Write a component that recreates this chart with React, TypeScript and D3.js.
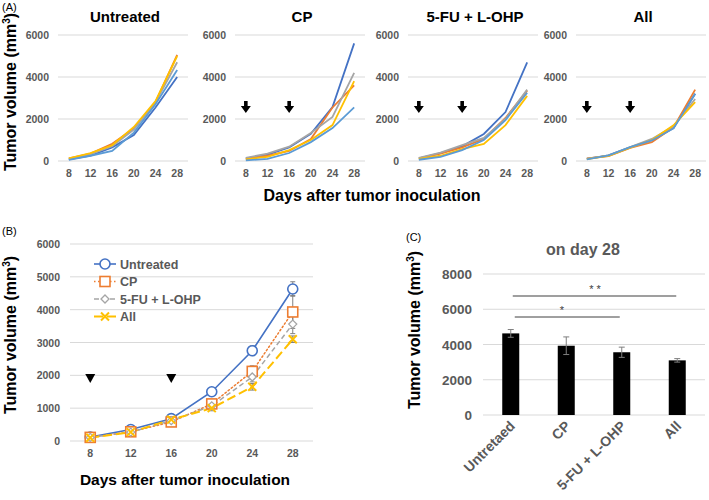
import React from 'react';
import * as d3 from 'd3';

const days = [8, 12, 16, 20, 24, 28];
const treatmentDays = [8, 16];
const groupTitles = ['Untreated', 'CP', '5-FU + L-OHP', 'All'];

// Panel A: individual mice (dark blue, orange, gray, yellow, light blue)
const untreatedMice = [
  [80, 250, 650, 1240, 2550, 4000],
  [120, 350, 820, 1550, 2800, 5050],
  [100, 330, 700, 1500, 2800, 4700],
  [130, 380, 750, 1620, 2850, 5000],
  [50, 250, 480, 1350, 2700, 4330],
];
const cpMice = [
  [130, 300, 650, 1290, 2570, 5600],
  [100, 250, 480, 1050, 2550, 3600],
  [150, 350, 680, 1330, 2100, 4200],
  [80, 200, 520, 1000, 1710, 3800],
  [30, 100, 380, 900, 1570, 2550],
];
const fuMice = [
  [130, 380, 700, 1290, 2330, 4700],
  [120, 350, 650, 1050, 2050, 3350],
  [150, 400, 760, 1100, 2000, 3400],
  [100, 250, 560, 810, 1710, 3100],
  [60, 200, 520, 1000, 1950, 3250],
];
const allMice = [
  [100, 270, 650, 1000, 1570, 3200],
  [120, 230, 620, 900, 1600, 3400],
  [110, 260, 660, 1050, 1650, 2950],
  [90, 250, 640, 1000, 1700, 2800],
  [80, 270, 660, 980, 1550, 3200],
];
const panelAYTicks = [0, 2000, 4000, 6000];

// Panel B: group means
const legendLabels = ['Untreated', 'CP', '5-FU + L-OHP', 'All'];
const untreatedMean = [120, 350, 680, 1500, 2750, 4630];
const cpMean = [110, 280, 580, 1130, 2120, 3930];
const fuMean = [110, 270, 620, 1070, 1950, 3560];
const allMean = [100, 270, 650, 1000, 1650, 3100];
const untreatedErr = [20, 40, 60, 120, 150, 220];
const cpErr = [20, 40, 60, 100, 170, 500];
const fuErr = [20, 40, 60, 100, 150, 290];
const allErr = [20, 30, 50, 80, 100, 100];
const panelBYTicks = [0, 1000, 2000, 3000, 4000, 5000, 6000];

// Panel C
const barLabels = ['Untretaed', 'CP', '5-FU + L-OHP', 'All'];
const day28Means = [4630, 3930, 3560, 3100];
const day28Errors = [220, 500, 290, 100];
const panelCYTicks = [0, 2000, 4000, 6000, 8000];

const FONT = "'Liberation Sans', Arial, Helvetica, sans-serif";
const GRAY = '#595959';
const GRID = '#d9d9d9';
const mouseColors = ['#4472C4', '#ED7D31', '#A5A5A5', '#FFC000', '#5B9BD5'];

function YTitle({ x, y }: { x: number; y: number }) {
  return (
    <text transform={`translate(${x},${y}) rotate(-90)`} textAnchor="middle" fontFamily={FONT}
      fontWeight="bold" fontSize={16} fill="#000">
      Tumor volume (mm<tspan dy={-6} fontSize={10}>3</tspan><tspan dy={6}>)</tspan>
    </text>
  );
}

function PanelA() {
  const groups = [untreatedMice, cpMice, fuMice, allMice];
  const gx0 = [58, 235, 408, 576];
  const w = 130;
  const y = d3.scaleLinear().domain([0, 6000]).range([161, 35]);
  return (
    <g>
      <text x={2} y={11} fontFamily={FONT} fontSize={11} fill="#000">(A)</text>
      <YTitle x={16} y={92} />
      {groups.map((mice, gi) => {
        const x = d3.scalePoint<number>().domain(days).range([gx0[gi], gx0[gi] + w]).padding(0.5);
        const line = d3.line<number>().x((_, i) => x(days[i])!).y((v) => y(v));
        return (
          <g key={gi}>
            <text x={gx0[gi] + w / 2 + 2} y={22} textAnchor="middle" fontFamily={FONT} fontWeight="bold"
              fontSize={15} fill="#000">{groupTitles[gi]}</text>
            {panelAYTicks.map((t) => (
              <g key={t}>
                <line x1={gx0[gi]} x2={gx0[gi] + w} y1={y(t)} y2={y(t)} stroke={GRID} strokeWidth={1} />
                <text x={gx0[gi] - 9} y={y(t) + 4} textAnchor="end" fontFamily={FONT} fontWeight="bold"
                  fontSize={10.5} fill={GRAY}>{t}</text>
              </g>
            ))}
            {days.map((d) => (
              <text key={d} x={x(d)} y={177} textAnchor="middle" fontFamily={FONT} fontWeight="bold"
                fontSize={10.5} fill={GRAY}>{d}</text>
            ))}
            {mice.map((m, mi) => (
              <path key={mi} d={line(m)!} fill="none" stroke={mouseColors[mi]} strokeWidth={1.8} />
            ))}
            {gi > 0 && treatmentDays.map((d) => {
              const cx = x(d)!;
              const t = 101;
              return (
                <path key={d} fill="#000"
                  d={`M${cx - 1.8},${t} L${cx + 1.8},${t} L${cx + 1.8},${t + 5} L${cx + 5},${t + 5} L${cx},${t + 12} L${cx - 5},${t + 5} L${cx - 1.8},${t + 5} Z`} />
              );
            })}
          </g>
        );
      })}
      <text x={372} y={201} textAnchor="middle" fontFamily={FONT} fontWeight="bold" fontSize={16}
        fill="#000">Days after tumor inoculation</text>
    </g>
  );
}

function Marker({ kind, cx, cy }: { kind: number; cx: number; cy: number }) {
  if (kind === 0) return <circle cx={cx} cy={cy} r={5} fill="#fff" stroke="#4472C4" strokeWidth={1.6} />;
  if (kind === 1)
    return <rect x={cx - 5} y={cy - 5} width={10} height={10} fill="#fff" stroke="#ED7D31" strokeWidth={1.6} />;
  if (kind === 2)
    return <path d={`M${cx},${cy - 4} L${cx + 4},${cy} L${cx},${cy + 4} L${cx - 4},${cy} Z`} fill="#fff"
      stroke="#A5A5A5" strokeWidth={1.3} />;
  return <path d={`M${cx - 4},${cy - 4} L${cx + 4},${cy + 4} M${cx + 4},${cy - 4} L${cx - 4},${cy + 4}`}
    stroke="#FFC000" strokeWidth={2} fill="none" />;
}

function PanelB() {
  const x = d3.scalePoint<number>().domain(days).range([70, 313]).padding(0.5);
  const y = d3.scaleLinear().domain([0, 6000]).range([441, 244]);
  const series = [untreatedMean, cpMean, fuMean, allMean];
  const errs = [untreatedErr, cpErr, fuErr, allErr];
  const colors = ['#4472C4', '#ED7D31', '#A5A5A5', '#FFC000'];
  const dashes = ['none', '1.5 2.5', '5 3', '9 4'];
  const widths = [1.6, 1.5, 1.5, 2];
  const line = d3.line<number>().x((_, i) => x(days[i])!).y((v) => y(v));
  return (
    <g>
      <text x={2} y={235} fontFamily={FONT} fontSize={11} fill="#000">(B)</text>
      <YTitle x={16} y={335} />
      {panelBYTicks.map((t) => (
        <g key={t}>
          <line x1={70} x2={313} y1={y(t)} y2={y(t)} stroke={GRID} strokeWidth={1} />
          <text x={60} y={y(t) + 4} textAnchor="end" fontFamily={FONT} fontWeight="bold" fontSize={10.5}
            fill={GRAY}>{t}</text>
        </g>
      ))}
      {days.map((d) => (
        <text key={d} x={x(d)} y={457} textAnchor="middle" fontFamily={FONT} fontWeight="bold" fontSize={10.5}
          fill={GRAY}>{d}</text>
      ))}
      {series.map((s, si) =>
        s.map((v, i) => {
          const cx = x(days[i])!;
          return (
            <g key={`${si}-${i}`} stroke="#808080" strokeWidth={1}>
              <line x1={cx} x2={cx} y1={y(v - errs[si][i])} y2={y(v + errs[si][i])} />
              <line x1={cx - 2.5} x2={cx + 2.5} y1={y(v + errs[si][i])} y2={y(v + errs[si][i])} />
              <line x1={cx - 2.5} x2={cx + 2.5} y1={y(v - errs[si][i])} y2={y(v - errs[si][i])} />
            </g>
          );
        })
      )}
      {series.map((s, si) => (
        <path key={si} d={line(s)!} fill="none" stroke={colors[si]} strokeWidth={widths[si]}
          strokeDasharray={dashes[si]} strokeLinecap={si === 1 ? 'round' : 'butt'} />
      ))}
      {series.map((s, si) =>
        s.map((v, i) => <Marker key={`${si}-${i}`} kind={si} cx={x(days[i])!} cy={y(v)} />)
      )}
      {treatmentDays.map((d) => (
        <path key={d} d={`M${x(d)! - 5},${374} L${x(d)! + 5},${374} L${x(d)!},${383} Z`} fill="#000" />
      ))}
      {legendLabels.map((l, i) => {
        const ly = 264 + i * 17.5;
        return (
          <g key={l}>
            <line x1={94} x2={116} y1={ly} y2={ly} stroke={colors[i]} strokeWidth={widths[i]}
              strokeDasharray={dashes[i]} />
            <Marker kind={i} cx={105} cy={ly} />
            <text x={120} y={ly + 4.5} fontFamily={FONT} fontWeight="bold" fontSize={12.5} fill={GRAY}>{l}</text>
          </g>
        );
      })}
      <text x={185} y={485} textAnchor="middle" fontFamily={FONT} fontWeight="bold" fontSize={15.5}
        fill="#000">Days after tumor inoculation</text>
    </g>
  );
}

function PanelC() {
  const x = d3.scaleBand<string>().domain(barLabels).range([483, 705]);
  const y = d3.scaleLinear().domain([0, 8000]).range([415, 274]);
  const bw = 17;
  const cxs = barLabels.map((l) => x(l)! + x.bandwidth() / 2);
  return (
    <g>
      <text x={406} y={241} fontFamily={FONT} fontSize={11} fill="#000">(C)</text>
      <text x={583} y={255} textAnchor="middle" fontFamily={FONT} fontWeight="bold" fontSize={16}
        fill={GRAY}>on day 28</text>
      <YTitle x={420} y={330} />
      {panelCYTicks.map((t) => (
        <g key={t}>
          <line x1={483} x2={705} y1={y(t)} y2={y(t)} stroke={GRID} strokeWidth={1} />
          <text x={472} y={y(t) + 5} textAnchor="end" fontFamily={FONT} fontWeight="bold" fontSize={13.5}
            fill={GRAY}>{t}</text>
        </g>
      ))}
      {day28Means.map((v, i) => (
        <rect key={i} x={cxs[i] - bw / 2} y={y(v)} width={bw} height={y(0) - y(v)} fill="#000" />
      ))}
      {day28Means.map((v, i) => (
        <g key={i} stroke="#7f7f7f" strokeWidth={1}>
          <line x1={cxs[i]} x2={cxs[i]} y1={y(v - day28Errors[i])} y2={y(v + day28Errors[i])} />
          <line x1={cxs[i] - 3} x2={cxs[i] + 3} y1={y(v + day28Errors[i])} y2={y(v + day28Errors[i])} />
          <line x1={cxs[i] - 3} x2={cxs[i] + 3} y1={y(v - day28Errors[i])} y2={y(v - day28Errors[i])} />
        </g>
      ))}
      <line x1={cxs[0] + 2} x2={cxs[3] - 1} y1={296} y2={296} stroke="#7f7f7f" strokeWidth={1.5} />
      <text x={595} y={293} textAnchor="middle" fontFamily={FONT} fontSize={11} fill="#404040">* *</text>
      <line x1={cxs[0] + 4} x2={cxs[2] - 2} y1={317} y2={317} stroke="#404040" strokeWidth={1} />
      <text x={562} y={314} textAnchor="middle" fontFamily={FONT} fontSize={11} fill="#404040">*</text>
      {barLabels.map((l, i) => (
        <text key={l} transform={`translate(${cxs[i] + 5},${427}) rotate(-45)`} textAnchor="end"
          fontFamily={FONT} fontWeight="bold" fontSize={14} fill={GRAY}>{l}</text>
      ))}
    </g>
  );
}

export default function App() {
  return (
    <svg width={709} height={500} viewBox="0 0 709 500"
      style={{ position: 'absolute', left: 0, top: 0, background: '#fff' }}>
      <rect width={709} height={500} fill="#fff" />
      <PanelA />
      <PanelB />
      <PanelC />
    </svg>
  );
}
